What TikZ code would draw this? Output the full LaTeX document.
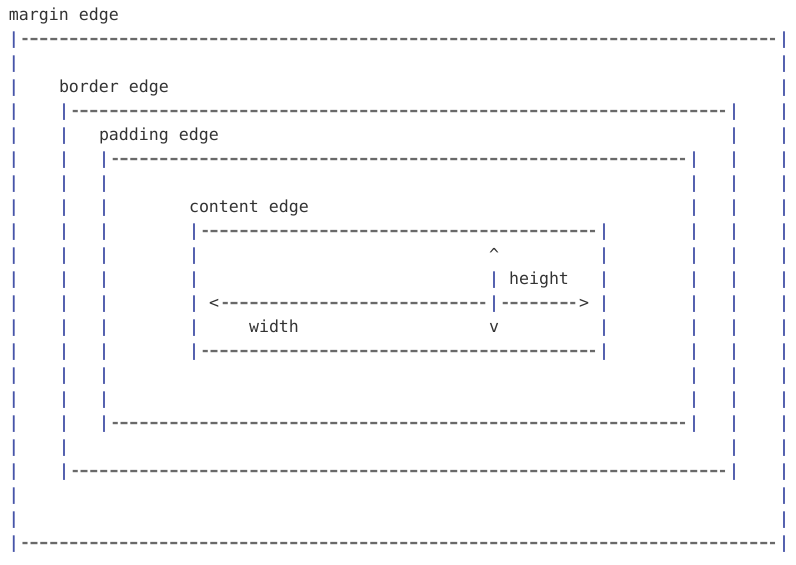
\documentclass[tikz,border=0pt]{standalone}
\usepackage{fontspec}
\usepackage{graphicx}
\setmonofont{DejaVu Sans Mono}
\definecolor{pipec}{RGB}{70,84,168}
\definecolor{dashc}{RGB}{105,105,105}
\definecolor{textc}{RGB}{51,51,51}
% one hyphen per 10pt cell; the first and last of a run keep inside their cell
\newcommand\hy{\makebox[10pt][c]{\raisebox{-3.9pt}{\scalebox{1.65}[1.75]{-}}}}
\newcommand\hyA{\makebox[10pt][c]{\hspace{2.5pt}\raisebox{-3.9pt}{\scalebox{1.2}[1.75]{-}}}}
\newcommand\hyZ{\makebox[10pt][c]{\raisebox{-3.9pt}{\scalebox{1.2}[1.75]{-}}\hspace{2.5pt}}}
\newcommand\vbar{{\bfseries |}}
\ExplSyntaxOn
\cs_new:Npn \asciirun #1 { \hyA \prg_replicate:nn {#1-2} {\hy} \hyZ }
\ExplSyntaxOff
\newcommand\putat[5]{\node[#4] (#3) at ({9+10*(#1)},{-20-24*(#2)}) {#5};}
\begin{document}
\begin{tikzpicture}[x=1pt,y=1pt,
  ch/.style={anchor=base west,inner sep=0pt,outer sep=0pt,
    font=\ttfamily\fontsize{16.61}{24}\selectfont,text=textc},
  pipe/.style={ch,text=pipec},
  dashrow/.style={ch,text=dashc}]
\useasboundingbox (0,0) rectangle (796,-565);
% labels
\putat{0}{0}{margin}{ch}{margin edge}
\putat{5}{3}{border}{ch}{border edge}
\putat{9}{5}{padding}{ch}{padding edge}
\putat{18}{8}{content}{ch}{content edge}
% margin box
\foreach \r in {1,...,22} {\putat{0}{\r}{mL\r}{pipe}{\vbar}\putat{77}{\r}{mR\r}{pipe}{\vbar}}
\putat{1}{1}{mTop}{dashrow}{\asciirun{76}}
\putat{1}{22}{mBot}{dashrow}{\asciirun{76}}
% border box
\foreach \r in {4,...,19} {\putat{5}{\r}{bL\r}{pipe}{\vbar}\putat{72}{\r}{bR\r}{pipe}{\vbar}}
\putat{6}{4}{bTop}{dashrow}{\asciirun{66}}
\putat{6}{19}{bBot}{dashrow}{\asciirun{66}}
% padding box
\foreach \r in {6,...,17} {\putat{9}{\r}{pL\r}{pipe}{\vbar}\putat{68}{\r}{pR\r}{pipe}{\vbar}}
\putat{10}{6}{pTop}{dashrow}{\asciirun{58}}
\putat{10}{17}{pBot}{dashrow}{\asciirun{58}}
% content box
\foreach \r in {9,...,14} {\putat{18}{\r}{cL\r}{pipe}{\vbar}\putat{59}{\r}{cR\r}{pipe}{\vbar}}
\putat{19}{9}{cTop}{dashrow}{\asciirun{40}}
\putat{19}{14}{cBot}{dashrow}{\asciirun{40}}
% height / width marks
\putat{48}{10}{up}{ch}{\textasciicircum}
\putat{48}{11}{hbar}{pipe}{\vbar}
\putat{50}{11}{height}{ch}{height}
\putat{20}{12}{left}{ch}{<}
\putat{21}{12}{wleft}{dashrow}{\asciirun{27}}
\putat{48}{12}{mid}{pipe}{\vbar}
\putat{49}{12}{wright}{dashrow}{\asciirun{8}}
\putat{57}{12}{right}{ch}{>}
\putat{24}{13}{width}{ch}{width}
\putat{48}{13}{down}{ch}{v}
\end{tikzpicture}
\end{document}
